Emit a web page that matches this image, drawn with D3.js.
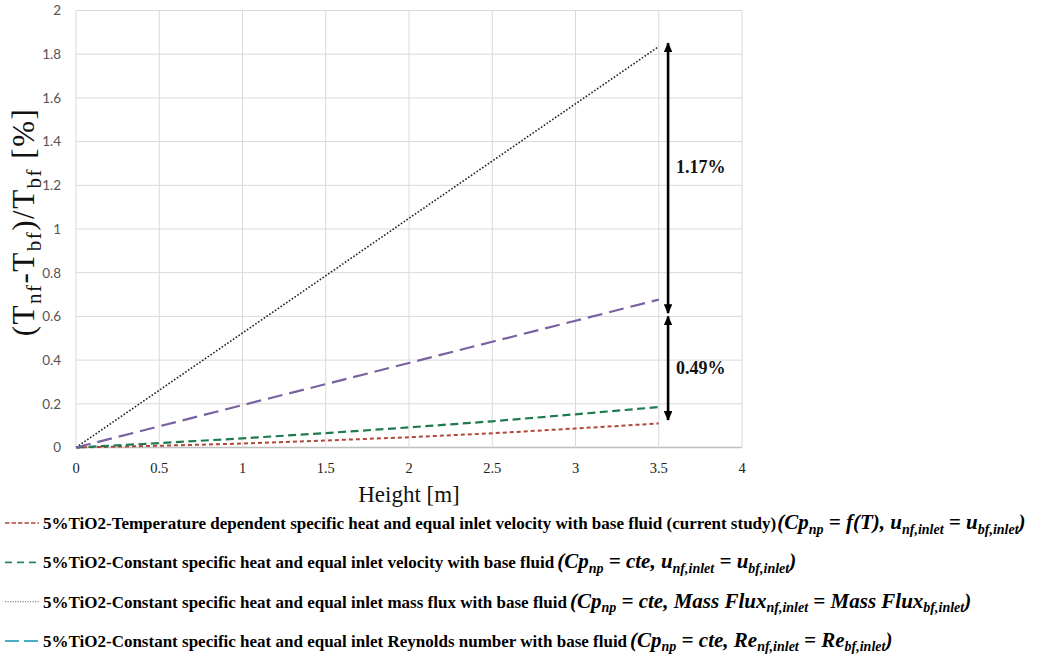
<!DOCTYPE html>
<html>
<head>
<meta charset="utf-8">
<script src="https://cdn.jsdelivr.net/npm/d3@7"></script>
<style>
  body { margin: 0; background: #fff; }
  svg { display: block; }
</style>
</head>
<body>
<svg id="chart" width="1046" height="662"></svg>
<script>
// ---------------- data ----------------
const heights = [0, 0.5, 1, 1.5, 2, 2.5, 3, 3.5];
const tempDependentVelocity = [0, 0.008, 0.018, 0.032, 0.047, 0.065, 0.087, 0.11];
const constantVelocity = [0, 0.02, 0.042, 0.066, 0.092, 0.12, 0.152, 0.185];
const constantMassFlux = [0, 0.262, 0.524, 0.786, 1.049, 1.311, 1.573, 1.835];
const constantReynolds = [0, 0.097, 0.194, 0.29, 0.387, 0.484, 0.58, 0.677];

const xTicks = [0, 0.5, 1, 1.5, 2, 2.5, 3, 3.5, 4];
const yTicks = [0, 0.2, 0.4, 0.6, 0.8, 1, 1.2, 1.4, 1.6, 1.8, 2];

const legendTexts = [
  "5%TiO2-Temperature dependent specific heat and equal inlet velocity with base fluid (current study)",
  "5%TiO2-Constant specific heat and equal inlet velocity with base fluid",
  "5%TiO2-Constant specific heat and equal inlet mass flux with base fluid",
  "5%TiO2-Constant specific heat and equal inlet Reynolds number with base fluid"
];
// math parts: [text, isSubscript]
const legendMath = [
  [["(Cp", 0], ["np", 1], [" = f(T), u", 0], ["nf,inlet", 1], [" = u", 0], ["bf,inlet", 1], [")", 0]],
  [["(Cp", 0], ["np", 1], [" = cte, u", 0], ["nf,inlet", 1], [" = u", 0], ["bf,inlet", 1], [")", 0]],
  [["(Cp", 0], ["np", 1], [" = cte, Mass Flux", 0], ["nf,inlet", 1], [" = Mass Flux", 0], ["bf,inlet", 1], [")", 0]],
  [["(Cp", 0], ["np", 1], [" = cte, Re", 0], ["nf,inlet", 1], [" = Re", 0], ["bf,inlet", 1], [")", 0]]
];

const annotLabels = ["1.17%", "0.49%"];
const annotFrom = [1.85, 0.60];
const annotTo = [0.615, 0.126];
const annotLabelY = [1.283, 0.364];
const annotX = 3.556;

// ---------------- styles ----------------
const series = [
  { values: tempDependentVelocity, color: "#b0463c", dash: "4,3", width: 2, legendColor: "#b0463c", legendDash: "4.5,2", legendWidth: 1.6 },
  { values: constantVelocity, color: "#1f7a50", dash: "8,4.5", width: 2.2, legendColor: "#2a8466", legendDash: "7,5", legendWidth: 1.8 },
  { values: constantMassFlux, color: "#222222", dash: "1.6,1.8", width: 1.6, legendColor: "#8a8a8a", legendDash: "1.2,1.3", legendWidth: 1.2 },
  { values: constantReynolds, color: "#7a61a0", dash: "15,7", width: 2.2, legendColor: "#4bacc6", legendDash: "14,5", legendWidth: 2 }
];

const serif = "'Liberation Serif', 'Times New Roman', serif";
const svg = d3.select("#chart");
const x = d3.scaleLinear().domain([0, 4]).range([76, 742]);
const y = d3.scaleLinear().domain([0, 2]).range([447.5, 10.5]);

// grid
svg.append("g").selectAll("line").data(yTicks).join("line")
  .attr("x1", x(0)).attr("x2", x(4))
  .attr("y1", d => y(d)).attr("y2", d => y(d))
  .attr("stroke", d => d === 0 ? "#bfbfbf" : "#d9d9d9").attr("stroke-width", d => d === 0 ? 1.5 : 1);
svg.append("g").selectAll("line").data(xTicks).join("line")
  .attr("x1", d => x(d)).attr("x2", d => x(d))
  .attr("y1", y(0)).attr("y2", y(2))
  .attr("stroke", "#d9d9d9").attr("stroke-width", 1);

// y tick labels
svg.append("g").selectAll("text").data(yTicks).join("text")
  .attr("x", 61).attr("y", d => y(d)).attr("dy", "0.36em")
  .attr("text-anchor", "end")
  .attr("font-family", "Lato, 'Liberation Sans', sans-serif").attr("font-size", 13.5)
  .attr("fill", "#555")
  .text(d => d3.format("~g")(d));

// x tick labels
svg.append("g").selectAll("text").data(xTicks).join("text")
  .attr("x", d => x(d)).attr("y", 473)
  .attr("text-anchor", "middle")
  .attr("font-family", serif).attr("font-size", 14.5)
  .attr("fill", "#222")
  .text(d => d3.format("~g")(d));

// axis titles
svg.append("text").attr("x", x(2)).attr("y", 502)
  .attr("text-anchor", "middle")
  .attr("font-family", serif).attr("font-size", 23)
  .attr("fill", "#111").text("Height [m]");

const yt = svg.append("text")
  .attr("transform", "translate(34,222) rotate(-90)")
  .attr("text-anchor", "middle")
  .attr("font-family", serif).attr("font-size", 31)
  .attr("letter-spacing", 1.5)
  .attr("fill", "#111");
[["(T", 0], ["nf", 1], ["-T", 0], ["bf", 1], [")/T", 0], ["bf", 1], [" [%]", 0]].forEach(([t, s], i, arr) => {
  const prevSub = i > 0 && arr[i - 1][1];
  const ts = yt.append("tspan").text(t);
  if (s) ts.attr("font-size", 21).attr("dy", 7);
  else if (prevSub) ts.attr("dy", -7);
});

// lines
const line = d3.line().x((d, i) => x(heights[i])).y(d => y(d));
svg.append("g").selectAll("path").data(series).join("path")
  .attr("d", d => line(d.values))
  .attr("fill", "none")
  .attr("stroke", d => d.color)
  .attr("stroke-width", d => d.width)
  .attr("stroke-dasharray", d => d.dash);

// arrows
const defs = svg.append("defs");
defs.append("marker").attr("id", "ah").attr("viewBox", "0 0 10 10")
  .attr("refX", 9).attr("refY", 5).attr("markerWidth", 3.8).attr("markerHeight", 3.3)
  .attr("markerUnits", "strokeWidth").attr("orient", "auto-start-reverse")
  .attr("preserveAspectRatio", "none")
  .append("path").attr("d", "M0,0 L10,5 L0,10 Z").attr("fill", "#000");

svg.append("g").selectAll("line").data(annotLabels).join("line")
  .attr("x1", x(annotX)).attr("x2", x(annotX))
  .attr("y1", (d, i) => y(annotFrom[i])).attr("y2", (d, i) => y(annotTo[i]))
  .attr("stroke", "#000").attr("stroke-width", 2.6)
  .attr("marker-start", "url(#ah)").attr("marker-end", "url(#ah)");

svg.append("g").selectAll("text").data(annotLabels).join("text")
  .attr("x", x(annotX) + 8).attr("y", (d, i) => y(annotLabelY[i])).attr("dy", "0.35em")
  .attr("font-family", serif).attr("font-size", 18).attr("font-weight", "bold")
  .attr("fill", "#111").text(d => d);

// legend
const legendY0 = 523, legendStep = 39.3;
const lg = svg.append("g");
series.forEach((s, i) => {
  const yy = legendY0 + i * legendStep;
  lg.append("line").attr("x1", 5).attr("x2", 39).attr("y1", yy).attr("y2", yy)
    .attr("stroke", s.legendColor).attr("stroke-width", s.legendWidth).attr("stroke-dasharray", s.legendDash);
  const t = lg.append("text").attr("x", 43).attr("y", yy + 6)
    .attr("font-family", serif).attr("font-size", 17).attr("font-weight", "bold")
    .attr("fill", "#000");
  t.append("tspan").text(legendTexts[i]);
  const m = t.append("tspan").attr("font-style", "italic").attr("font-size", 21).attr("dx", i === 0 ? 1 : 3);
  legendMath[i].forEach(([txt, sub], j, arr) => {
    const prevSub = j > 0 && arr[j - 1][1];
    const ts = m.append("tspan").text(txt);
    if (sub) ts.attr("font-size", 14).attr("dy", 4.5);
    else if (prevSub) ts.attr("dy", -4.5);
  });
});
</script>
</body>
</html>
